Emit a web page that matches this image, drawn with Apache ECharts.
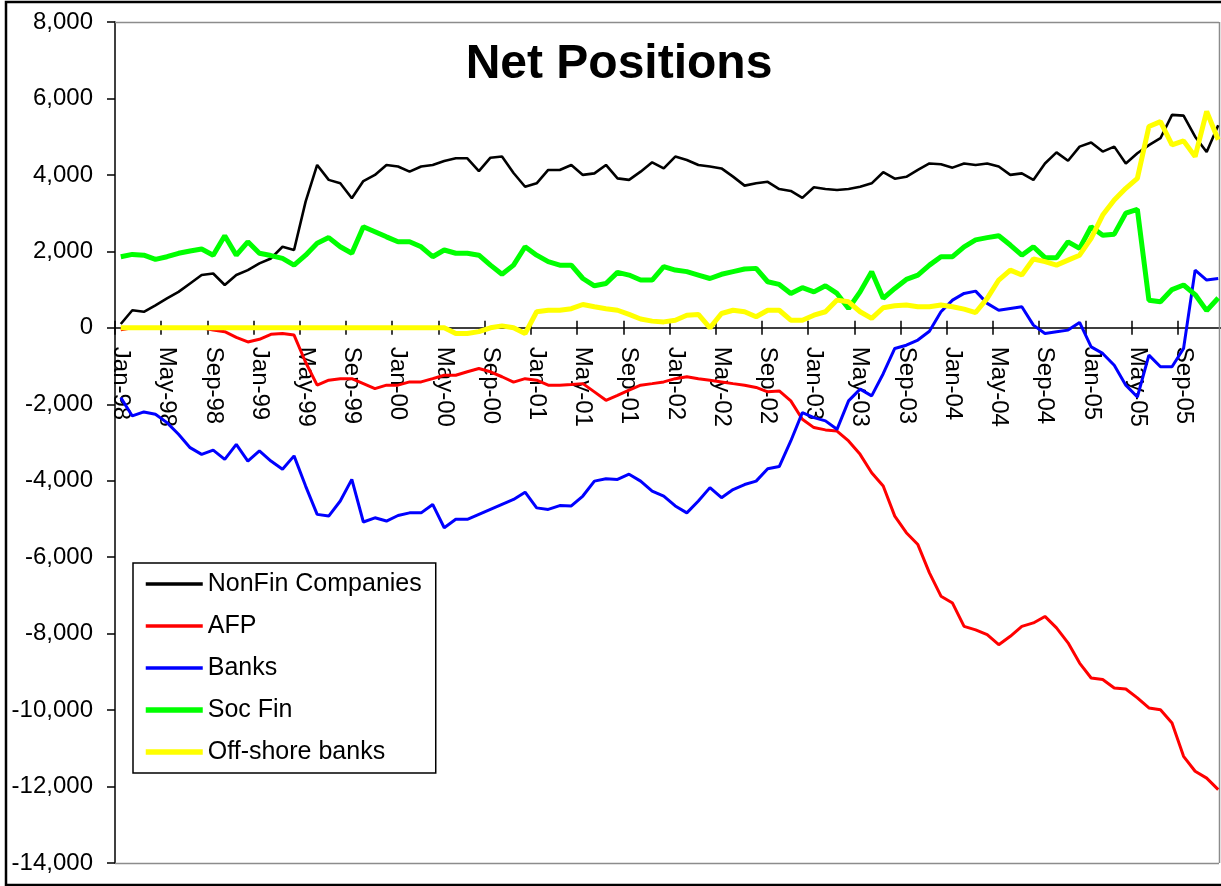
<!DOCTYPE html>
<html>
<head>
<meta charset="utf-8">
<script src="https://cdn.jsdelivr.net/npm/echarts@6/dist/echarts.min.js"></script>
<style>
html,body{margin:0;padding:0;background:#fff;}
#chart{width:1221px;height:886px;}
</style>
</head>
<body>
<div id="chart"></div>
<script>
const monthNames = ['Jan','Feb','Mar','Apr','May','Jun','Jul','Aug','Sep','Oct','Nov','Dec'];
const years = ['98','99','00','01','02','03','04','05'];
const categories = [];
years.forEach(y => monthNames.forEach(m => categories.push(m + '-' + y)));

const yTicks = {min: -14000, max: 8000, interval: 2000};

const nonFin = [100,460,420,590,770,940,1160,1380,1420,1120,1380,1510,
  1685,1815,2120,2035,3300,4260,3870,3780,3390,3840,4000,4260,
  4220,4085,4220,4260,4365,4435,4435,4100,4450,4480,4050,3690,
  3780,4130,4130,4260,4000,4040,4260,3910,3870,4085,4330,4170,
  4480,4390,4260,4220,4170,3955,3720,3780,3820,3630,3580,3400,
  3675,3630,3605,3630,3690,3780,4070,3900,3950,4130,4300,4280,
  4190,4300,4260,4300,4220,4000,4040,3870,4300,4590,4370,4740,
  4850,4610,4740,4300,4565,4780,4960,5570,5550,5000,4600,5300];

const afp = [-50,0,0,0,0,0,0,0,-60,-100,-250,-370,
  -300,-170,-150,-190,-900,-1500,-1370,-1330,-1330,-1460,-1590,-1500,
  -1500,-1415,-1415,-1330,-1240,-1240,-1150,-1065,-1150,-1280,-1420,-1330,
  -1370,-1500,-1500,-1485,-1460,-1675,-1895,-1765,-1630,-1500,-1460,-1415,
  -1330,-1280,-1330,-1370,-1415,-1460,-1500,-1560,-1675,-1650,-1910,-2390,
  -2610,-2670,-2700,-2960,-3310,-3790,-4140,-4925,-5360,-5670,-6410,-7020,
  -7200,-7810,-7900,-8025,-8290,-8070,-7810,-7720,-7550,-7850,-8240,-8770,
  -9160,-9200,-9420,-9450,-9680,-9945,-9990,-10340,-11210,-11600,-11780,-12080];

const banks = [-1825,-2305,-2200,-2260,-2480,-2785,-3135,-3310,-3200,-3440,-3050,-3485,
  -3220,-3485,-3700,-3350,-4140,-4880,-4925,-4530,-3965,-5080,-4970,-5055,
  -4910,-4840,-4840,-4620,-5230,-5010,-5010,-4880,-4750,-4620,-4490,-4300,
  -4710,-4750,-4650,-4660,-4400,-4010,-3950,-3965,-3830,-4010,-4270,-4400,
  -4660,-4840,-4530,-4180,-4445,-4230,-4100,-4010,-3685,-3630,-2960,-2220,
  -2350,-2435,-2655,-1910,-1605,-1780,-1200,-540,-455,-320,-90,420,
  725,900,960,640,460,505,550,70,-150,-105,-60,140,
  -500,-670,-980,-1500,-1810,-715,-1020,-1020,-540,1510,1250,1290];

const socFin = [1860,1920,1900,1790,1860,1950,2010,2060,1900,2410,1900,2250,
  1950,1890,1815,1640,1900,2210,2360,2120,1950,2645,2515,2380,
  2250,2250,2120,1860,2035,1950,1950,1900,1640,1400,1640,2120,
  1900,1730,1640,1640,1290,1100,1160,1450,1380,1250,1250,1600,
  1510,1470,1380,1290,1400,1470,1540,1555,1205,1135,900,1050,
  940,1100,900,505,940,1470,770,1030,1265,1380,1640,1860,
  1860,2120,2300,2360,2410,2165,1900,2120,1835,1835,2250,2080,
  2645,2420,2450,3000,3100,720,680,1000,1120,870,450,780];

const offshore = [0,0,0,0,0,0,0,0,0,0,0,0,
  0,0,0,0,0,0,0,0,0,0,0,0,
  0,0,0,0,0,-150,-150,-100,0,50,0,-150,
  420,460,460,500,610,550,500,460,350,230,175,155,
  200,330,350,0,375,460,420,290,460,460,200,200,
  330,420,725,680,420,245,525,575,595,550,550,595,
  550,490,400,770,1250,1510,1380,1800,1730,1640,1770,1900,
  2340,2950,3345,3650,3910,5265,5395,4785,4890,4480,5660,4920];

const seriesNames = ['NonFin Companies','AFP','Banks','Soc Fin','Off-shore banks'];
const seriesColors = ['#000000','#ff0000','#0000ff','#00ff00','#ffff00'];
const seriesWidths = [2.6,3,3,5,5];
const legendWidths = [3.5,3.5,3.5,5.5,5.5];
const seriesData = [nonFin, afp, banks, socFin, offshore];

const FONT = '"Liberation Sans", Arial, sans-serif';

// plot geometry
const GRID_TOP = 22, GRID_BOTTOM_Y = 863, H = 886;
const zeroY = GRID_TOP + (yTicks.max / (yTicks.max - yTicks.min)) * (GRID_BOTTOM_Y - GRID_TOP);
const xOffset = -(GRID_BOTTOM_Y - zeroY);

const chart = echarts.init(document.getElementById('chart'), null, {renderer:'canvas'});

const option = {
  animation: false,
  backgroundColor: '#fff',
  title: {
    text: 'Net Positions',
    left: 614, top: 36, textAlign: 'center',
    textStyle: {fontFamily: FONT, fontSize: 48, fontWeight: 'bold', color: '#000'}
  },
  grid: {left: 115, top: GRID_TOP, bottom: H - GRID_BOTTOM_Y, right: -3, show: false, containLabel: false, outerBoundsMode: 'none'},
  legend: {
    orient: 'vertical',
    left: 133, top: 563,
    itemWidth: 57, itemHeight: 14, itemGap: 16,
    padding: [8, 14, 8, 10],
    borderColor: '#000', borderWidth: 1.5,
    backgroundColor: '#fff',
    itemStyle: {opacity: 0},
    textStyle: {fontFamily: FONT, fontSize: 25, color: '#000', lineHeight: 26},
    data: seriesNames.map((n, i) => ({
      name: n,
      lineStyle: {color: seriesColors[i], width: legendWidths[i]}
    }))
  },
  xAxis: [{
    type: 'category',
    data: categories,
    boundaryGap: true,
    position: 'bottom',
    offset: xOffset,
    axisLine: {onZero: false, lineStyle: {color: '#000', width: 1.5}},
    axisTick: {show: true, interval: 3, length: 7, lineStyle: {color: '#000', width: 1.5}},
    axisLabel: {interval: 3, rotate: -90, margin: 19, fontFamily: FONT, fontSize: 24, color: '#000'},
    splitLine: {show: false}
  }, {
    type: 'category',
    data: categories,
    boundaryGap: true,
    position: 'bottom',
    offset: xOffset,
    axisLine: {show: false, onZero: false},
    axisTick: {show: true, inside: true, interval: 3, length: 7, lineStyle: {color: '#000', width: 1.5}},
    axisLabel: {show: false},
    splitLine: {show: false}
  }],
  yAxis: {
    type: 'value',
    min: yTicks.min, max: yTicks.max, interval: yTicks.interval,
    axisLine: {show: true, onZero: false, lineStyle: {color: '#000', width: 1.5}},
    axisTick: {show: true, length: 8, lineStyle: {color: '#000', width: 1.5}},
    axisLabel: {margin: 22, fontFamily: FONT, fontSize: 24, color: '#000'},
    splitLine: {show: false}
  },
  series: seriesNames.map((n, i) => ({
    name: n,
    type: 'line',
    data: seriesData[i],
    symbol: 'none',
    showSymbol: false,
    color: seriesColors[i],
    lineStyle: {color: seriesColors[i], width: seriesWidths[i]},
    itemStyle: {color: seriesColors[i]},
    z: 2 + i
  })),
  graphic: [
    {type: 'line', z: 1, shape: {x1: 115, y1: 22.5, x2: 1219, y2: 22.5}, style: {stroke: '#8c8c8c', lineWidth: 1.5}},
    {type: 'line', z: 1, shape: {x1: 1219.5, y1: 22, x2: 1219.5, y2: 863}, style: {stroke: '#8c8c8c', lineWidth: 1.5}},
    {type: 'line', z: 1, shape: {x1: 115, y1: 863.5, x2: 1219, y2: 863.5}, style: {stroke: '#8c8c8c', lineWidth: 1.5}},
    {type: 'rect', z: 100, shape: {x: 6, y: 2, width: 1240, height: 883}, style: {fill: 'none', stroke: '#000', lineWidth: 2.5}}
  ]
};
chart.setOption(option);
</script>
</body>
</html>
